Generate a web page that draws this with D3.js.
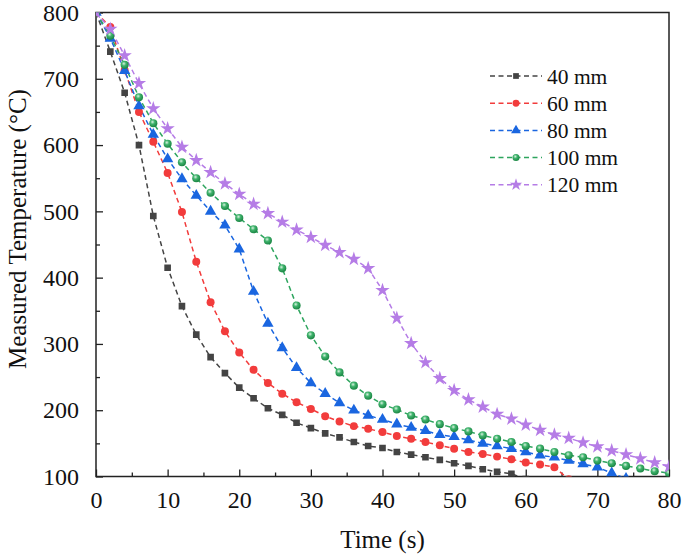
<!DOCTYPE html>
<html>
<head>
<meta charset="utf-8">
<script src="https://cdn.jsdelivr.net/npm/d3@7"></script>
<style>
body { margin: 0; background: #fff; }
text { font-family: "Liberation Serif", "Times New Roman", serif; fill: #111; }
</style>
</head>
<body>
<script>
// time axis, one reading every 2 s
var times = d3.range(0, 82, 2);

var t40  = [800, 741, 679, 600, 493, 415, 357, 314, 280, 256, 234, 218, 203, 193, 181, 173, 165, 159, 152, 146, 143, 137, 133, 129, 125, 120, 116, 111, 107, 104, 96];
var t60  = [800, 778, 713, 650, 605, 558, 499, 424, 363, 319, 287, 261, 241, 225, 212, 202, 191, 183, 176, 172, 167, 161, 157, 152, 147, 142, 137, 134, 130, 126, 121, 118, 114, 96];
var t80  = [800, 761, 712, 659, 616, 579, 549, 524, 500, 479, 443, 379, 331, 294, 264, 241, 225, 211, 200, 192, 186, 179, 174, 169, 163, 160, 155, 150, 146, 142, 137, 132, 129, 124, 119, 114, 105, 97];
var t100 = [800, 765, 721, 672, 633, 602, 574, 550, 528, 508, 490, 473, 456, 414, 358, 313, 281, 257, 237, 222, 209, 201, 192, 186, 179, 173, 168, 162, 157, 152, 146, 142, 137, 132, 129, 124, 120, 116, 112, 108, 105];
var t120 = [800, 775, 735, 693, 655, 625, 597, 577, 559, 542, 526, 511, 497, 484, 472, 461, 449, 438, 428, 414, 381, 339, 301, 272, 248, 230, 216, 205, 194, 187, 178, 170, 163, 158, 151, 145, 139, 133, 127, 121, 115];

var seriesNames = ["40 mm", "60 mm", "80 mm", "100 mm", "120 mm"];
var seriesValues = [t40, t60, t80, t100, t120];
var colors = ["#444444", "#f23c3c", "#1a66e0", "#2ea55e", "#b57ce6"];
var shapes = [d3.symbolSquare, d3.symbolCircle, d3.symbolTriangle, d3.symbolCircle, d3.symbolStar];
var shapeSizes = [44, 50, 56, 52, 64];

var xTicks = [0, 10, 20, 30, 40, 50, 60, 70, 80];
var yTicks = [100, 200, 300, 400, 500, 600, 700, 800];

var margin = {top: 12.5, right: 16, bottom: 78.5, left: 96};
var width = 685 - margin.left - margin.right;
var height = 555 - margin.top - margin.bottom;

var svg = d3.select("body").append("svg")
    .attr("width", 685)
    .attr("height", 555);

var defs = svg.append("defs");
defs.append("clipPath").attr("id", "plotClip")
    .append("rect").attr("width", width).attr("height", height);
var grad = defs.append("radialGradient").attr("id", "ball")
    .attr("cx", "40%").attr("cy", "35%").attr("r", "60%");
grad.append("stop").attr("offset", "0%").attr("stop-color", "#d9f2e0");
grad.append("stop").attr("offset", "45%").attr("stop-color", "#3fb36c");
grad.append("stop").attr("offset", "100%").attr("stop-color", "#1f8a48");

var g = svg.append("g")
    .attr("transform", "translate(" + [margin.left, margin.top] + ")");

var xScale = d3.scaleLinear().domain([0, 80]).range([0, width]);
var yScale = d3.scaleLinear().domain([100, 800]).range([height, 0]);

// minor ticks first, then the labelled ones (all pointing inwards)
g.append("g").attr("transform", "translate(0," + height + ")")
    .call(d3.axisBottom(xScale).tickValues(d3.range(5, 80, 10)).tickSize(-4).tickFormat(""))
    .call(a => a.select(".domain").remove());
g.append("g")
    .call(d3.axisLeft(yScale).tickValues(d3.range(150, 800, 100)).tickSize(-4).tickFormat(""))
    .call(a => a.select(".domain").remove());

var xAxis = g.append("g").attr("transform", "translate(0," + height + ")")
    .call(d3.axisBottom(xScale).tickValues(xTicks).tickSize(-7).tickPadding(14));
var yAxis = g.append("g")
    .call(d3.axisLeft(yScale).tickValues(yTicks).tickSize(-7).tickPadding(17));

svg.selectAll(".tick line").attr("stroke", "#222").attr("stroke-width", 1.3);
svg.selectAll(".domain").remove();
xAxis.selectAll("text").style("font-size", "24px").attr("fill", "#111");
yAxis.selectAll("text").style("font-size", "24px").attr("fill", "#111");

// frame
g.append("rect")
    .attr("width", width).attr("height", height)
    .attr("fill", "none").attr("stroke", "#222").attr("stroke-width", 1.5);

var line = d3.line()
    .x(function(d){ return xScale(d[0]); })
    .y(function(d){ return yScale(d[1]); });

var plot = g.append("g").attr("clip-path", "url(#plotClip)");

seriesValues.forEach(function(vals, i){
    var pts = vals.map(function(v, k){ return [times[k], v]; });
    plot.append("path")
        .datum(pts)
        .attr("d", line)
        .attr("fill", "none")
        .attr("stroke", colors[i])
        .attr("stroke-width", 1.5)
        .attr("stroke-dasharray", "5,3.5");
});

seriesValues.forEach(function(vals, i){
    var pts = vals.map(function(v, k){ return [times[k], v]; });
    plot.selectAll(".mk" + i)
        .data(pts)
        .enter()
        .append("path")
        .attr("class", "mk" + i)
        .attr("transform", function(d){ return "translate(" + [xScale(d[0]), yScale(d[1])] + ")"; })
        .attr("d", d3.symbol().type(shapes[i]).size(shapeSizes[i]))
        .attr("fill", i == 3 ? "url(#ball)" : colors[i]);
});

// legend
var legend = svg.append("g").attr("transform", "translate(490,76)");
seriesNames.forEach(function(name, i){
    var row = legend.append("g").attr("transform", "translate(0," + (i * 27.2) + ")");
    row.append("line")
        .attr("x1", 0).attr("x2", 52)
        .attr("stroke", colors[i]).attr("stroke-width", 1.5)
        .attr("stroke-dasharray", "5,3.5");
    row.append("path")
        .attr("transform", "translate(26,0)")
        .attr("d", d3.symbol().type(shapes[i]).size(shapeSizes[i] * 0.75))
        .attr("fill", i == 3 ? "url(#ball)" : colors[i]);
    row.append("text")
        .attr("x", 57).attr("dy", "0.35em")
        .style("font-size", "21.5px")
        .text(name);
});

// axis titles
svg.append("text")
    .attr("x", margin.left + width / 2).attr("y", 548)
    .attr("text-anchor", "middle")
    .style("font-size", "25px")
    .text("Time (s)");
svg.append("text")
    .attr("transform", "translate(17,229) rotate(-90)")
    .attr("text-anchor", "middle")
    .attr("dy", "0.35em")
    .style("font-size", "25px")
    .text("Measured Temperature (°C)");
</script>
</body>
</html>
